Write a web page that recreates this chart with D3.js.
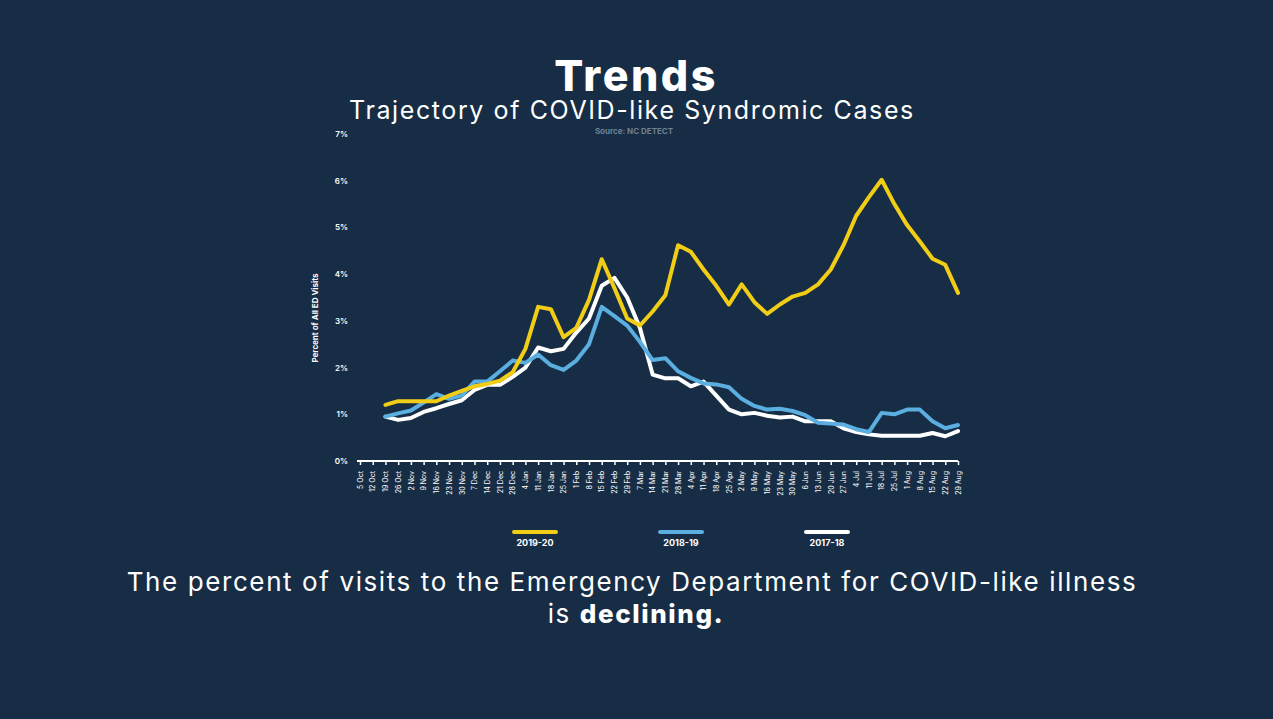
<!DOCTYPE html>
<html>
<head>
<meta charset="utf-8">
<script src="https://cdn.jsdelivr.net/npm/d3@7"></script>
<style>
  body { margin: 0; background: #172d45; }
  svg { display: block; font-family: Inter, "Open Sans", sans-serif; }
</style>
</head>
<body>
<svg id="chart" width="1273" height="719"></svg>
<script>
var weeks = ["5 Oct", "12 Oct", "19 Oct", "26 Oct", "2 Nov", "9 Nov", "16 Nov", "23 Nov", "30 Nov",
    "7 Dec", "14 Dec", "21 Dec", "28 Dec", "4 Jan", "11 Jan", "18 Jan", "25 Jan", "1 Feb", "8 Feb",
    "15 Feb", "22 Feb", "29 Feb", "7 Mar", "14 Mar", "21 Mar", "28 Mar", "4 Apr", "11 Apr", "18 Apr",
    "25 Apr", "2 May", "9 May", "16 May", "23 May", "30 May", "6 Jun", "13 Jun", "20 Jun", "27 Jun",
    "4 Jul", "11 Jul", "18 Jul", "25 Jul", "1 Aug", "8 Aug", "15 Aug", "22 Aug", "29 Aug"];

// series start at 19 Oct
var firstWeek = 2;
var y2019 = [1.2, 1.28, 1.28, 1.28, 1.28, 1.4, 1.5, 1.6, 1.65, 1.72, 1.9, 2.4, 3.3, 3.25, 2.65, 2.85,
    3.05, 3.45, 4.32, 3.7, 3.05, 2.9, 3.2, 3.55, 4.62, 4.48, 4.1, 3.75, 3.35, 3.78, 3.4, 3.15, 3.35,
    3.52, 3.6, 3.78, 4.1, 4.62, 5.25, 5.65, 6.02, 5.5, 5.05, 4.7, 4.33, 4.2, 3.6].slice(0, 16)
    .concat([3.05, 3.45, 4.32, 3.7, 3.05, 2.9, 3.2, 3.55, 4.62, 4.48, 4.1, 3.75, 3.35, 3.78, 3.4,
    3.15, 3.35, 3.52, 3.6, 3.78, 4.1, 4.62, 5.25, 5.65, 6.02, 5.5, 5.05, 4.7, 4.33, 4.2, 3.6].slice(1));
var y2018 = [0.95, 1.02, 1.08, 1.25, 1.43, 1.33, 1.4, 1.7, 1.7, 1.92, 2.15, 2.1, 2.28, 2.05, 1.95,
    2.15, 2.5, 3.3, 3.1, 2.9, 2.55, 2.16, 2.2, 1.92, 1.78, 1.66, 1.64, 1.58, 1.33, 1.18, 1.1, 1.12,
    1.07, 0.98, 0.82, 0.8, 0.78, 0.68, 0.62, 1.03, 1.0, 1.1, 1.1, 0.85, 0.7, 0.77];
var y2017 = [0.95, 0.88, 0.92, 1.05, 1.13, 1.22, 1.3, 1.52, 1.63, 1.63, 1.8, 2.0, 2.43, 2.35, 2.4,
    2.75, 3.05, 3.75, 3.92, 3.5, 2.85, 1.85, 1.77, 1.77, 1.6, 1.7, 1.4, 1.1, 1.0, 1.03, 0.97, 0.93,
    0.95, 0.85, 0.85, 0.85, 0.7, 0.62, 0.57, 0.54, 0.54, 0.54, 0.54, 0.6, 0.53, 0.64];
var yTicks = [0, 1, 2, 3, 4, 5, 6, 7];

var series = [
    { name: "2019-20", values: y2019, color: "#f2cd16" },
    { name: "2018-19", values: y2018, color: "#5aaee0" },
    { name: "2017-18", values: y2017, color: "#ffffff" }
];

var svg = d3.select("#chart");

var x = d3.scalePoint().domain(weeks).range([360, 958]);
var y = d3.scaleLinear().domain([0, 7]).range([461, 134]);

// titles
svg.append("text").attr("x", 636).attr("y", 91).attr("text-anchor", "middle")
    .attr("fill", "#fff").attr("font-size", 43).attr("font-weight", 800)
    .attr("letter-spacing", 2.5).text("Trends");
svg.append("text").attr("x", 632).attr("y", 119).attr("text-anchor", "middle")
    .attr("fill", "#fff").attr("font-size", 25).attr("letter-spacing", 1.6)
    .text("Trajectory of COVID-like Syndromic Cases");
svg.append("text").attr("x", 634).attr("y", 134).attr("text-anchor", "middle")
    .attr("fill", "#6f8096").attr("font-size", 8).attr("font-weight", 700).text("Source: NC DETECT");

// y labels
svg.selectAll(".ytick").data(yTicks).enter().append("text")
    .attr("class", "ytick")
    .attr("x", 348).attr("y", function (d) { return y(d) + 3; })
    .attr("text-anchor", "end").attr("fill", "#fff").attr("font-size", 8).attr("font-weight", 600)
    .text(function (d) { return d + "%"; });

svg.append("text")
    .attr("transform", "translate(318,318) rotate(-90)")
    .attr("text-anchor", "middle").attr("fill", "#fff").attr("font-size", 8).attr("font-weight", 700)
    .text("Percent of All ED Visits");

// x axis
var xAxis = svg.append("g")
    .attr("transform", "translate(0,461)")
    .call(d3.axisBottom(x).tickSize(4).tickSizeOuter(0));
xAxis.select(".domain").attr("stroke", "#fff").attr("stroke-width", 2).attr("d", "M357,0H958");
xAxis.selectAll(".tick line").attr("stroke", "#fff").attr("stroke-width", 1.5);
xAxis.selectAll("text")
    .attr("fill", "#fff").attr("font-size", 7).attr("font-family", "Inter, sans-serif")
    .style("text-anchor", "end")
    .attr("transform", "rotate(-90)")
    .attr("x", -10).attr("y", 0).attr("dy", "0.32em");

// lines
var line = d3.line()
    .x(function (d, i) { return x(weeks[i + firstWeek]); })
    .y(function (d) { return y(d); })
    .curve(d3.curveLinear);

svg.selectAll(".series").data(series.slice().reverse()).enter().append("path")
    .attr("class", "series")
    .attr("d", function (d) { return line(d.values); })
    .attr("fill", "none")
    .attr("stroke", function (d) { return d.color; })
    .attr("stroke-width", 4)
    .attr("stroke-linejoin", "round")
    .attr("stroke-linecap", "round");

// legend
var legendX = d3.scalePoint().domain(series.map(function (d) { return d.name; })).range([535, 827]);
var leg = svg.selectAll(".legend").data(series).enter().append("g")
    .attr("class", "legend")
    .attr("transform", function (d) { return "translate(" + legendX(d.name) + ",0)"; });
leg.append("line").attr("x1", -21).attr("x2", 21).attr("y1", 532).attr("y2", 532)
    .attr("stroke", function (d) { return d.color; }).attr("stroke-width", 4).attr("stroke-linecap", "round");
leg.append("text").attr("y", 546).attr("text-anchor", "middle").attr("fill", "#fff")
    .attr("font-size", 9).attr("font-weight", 700).text(function (d) { return d.name; });

// caption
svg.append("text").attr("x", 632).attr("y", 591).attr("text-anchor", "middle")
    .attr("fill", "#fff").attr("font-size", 26).attr("letter-spacing", 1.6)
    .text("The percent of visits to the Emergency Department for COVID-like illness");
var t2 = svg.append("text").attr("x", 636).attr("y", 623).attr("text-anchor", "middle")
    .attr("fill", "#fff").attr("font-size", 26).attr("letter-spacing", 1.6);
t2.append("tspan").text("is ");
t2.append("tspan").attr("font-weight", 800).text("declining.");
</script>
</body>
</html>
